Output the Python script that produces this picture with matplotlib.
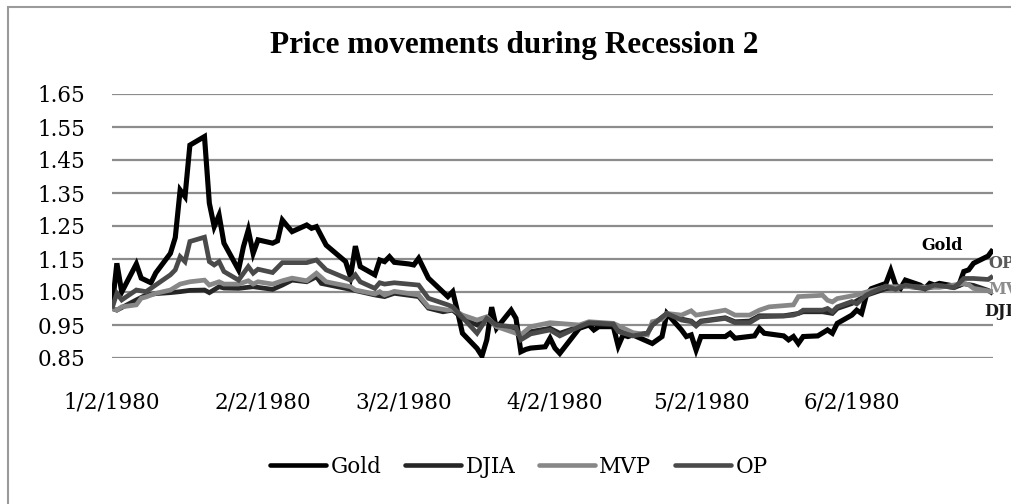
import matplotlib
matplotlib.use("Agg")
import matplotlib.pyplot as plt
from matplotlib.patches import Rectangle
import pandas as pd

# values (normalised prices, 1/2/1980 = 1)
gold_dates = ["01-02", "01-03", "01-04", "01-07", "01-08", "01-10", "01-11", "01-14", "01-15",
              "01-16", "01-17", "01-18", "01-21", "01-22", "01-23", "01-24", "01-25", "01-28",
              "01-29", "01-30", "01-31", "02-01", "02-04", "02-05", "02-06", "02-07", "02-08",
              "02-11", "02-12", "02-13", "02-15", "02-19", "02-20", "02-21", "02-22", "02-25",
              "02-26", "02-27", "02-28", "02-29", "03-03", "03-04", "03-05", "03-07", "03-10",
              "03-11", "03-12", "03-13", "03-14", "03-17", "03-18", "03-19", "03-20", "03-21",
              "03-24", "03-25", "03-26", "03-27", "03-28", "03-31", "04-01", "04-02", "04-03",
              "04-07", "04-09", "04-10", "04-11", "04-14", "04-15", "04-16", "04-17", "04-18",
              "04-22", "04-24", "04-25", "04-28", "04-29", "04-30", "05-01", "05-02", "05-07",
              "05-08", "05-09", "05-13", "05-14", "05-15", "05-19", "05-20", "05-21", "05-22",
              "05-23", "05-26", "05-28", "05-29", "05-30", "06-02", "06-03", "06-04", "06-05",
              "06-06", "06-09", "06-10", "06-11", "06-12", "06-13", "06-16", "06-17", "06-18",
              "06-19", "06-20", "06-23", "06-24", "06-25", "06-26", "06-27", "06-30", "07-01"]
gold = [1.00, 1.137, 1.05, 1.135, 1.092, 1.078, 1.108, 1.167, 1.215,
        1.359, 1.339, 1.495, 1.521, 1.319, 1.248, 1.283, 1.198, 1.117,
        1.187, 1.238, 1.167, 1.208, 1.198, 1.205, 1.268, 1.25, 1.233,
        1.253, 1.243, 1.248, 1.192, 1.142, 1.096, 1.189, 1.127, 1.102,
        1.147, 1.142, 1.157, 1.140, 1.135, 1.132, 1.152, 1.092, 1.05,
        1.036, 1.051, 0.99, 0.925, 0.879, 0.856, 0.905, 1.004, 0.940,
        0.995, 0.970, 0.869, 0.876, 0.88, 0.884, 0.910, 0.88, 0.864,
        0.940, 0.950, 0.935, 0.945, 0.945, 0.886, 0.920, 0.915, 0.920,
        0.894, 0.915, 0.985, 0.935, 0.915, 0.920, 0.874, 0.915, 0.915,
        0.925, 0.91, 0.917, 0.940, 0.925, 0.917, 0.905, 0.915, 0.894,
        0.915, 0.917, 0.935, 0.925, 0.955, 0.980, 0.995, 0.985, 1.041,
        1.06, 1.076, 1.115, 1.071, 1.061, 1.086, 1.071, 1.061, 1.076,
        1.071, 1.076, 1.068, 1.071, 1.112, 1.117, 1.137, 1.159, 1.179]

djia_dates = ["01-02", "01-03", "01-07", "01-09", "01-11", "01-14", "01-16", "01-18", "01-21",
              "01-22", "01-24", "01-25", "01-28", "01-31", "02-04", "02-06", "02-08", "02-11",
              "02-13", "02-14", "02-19", "02-25", "02-27", "02-29", "03-05", "03-07", "03-10",
              "03-12", "03-14", "03-17", "03-18", "03-19", "03-21", "03-24", "03-26", "03-28",
              "04-01", "04-03", "04-07", "04-09", "04-14", "04-15", "04-18", "04-21", "04-22",
              "04-25", "04-28", "04-30", "05-01", "05-02", "05-07", "05-09", "05-12", "05-14",
              "05-19", "05-22", "05-23", "05-27", "05-29", "05-30", "06-02", "06-05", "06-09",
              "06-11", "06-13", "06-17", "06-20", "06-23", "06-25", "06-27", "06-30", "07-01"]
djia = [1.00, 0.995, 1.026, 1.041, 1.045, 1.048, 1.051, 1.055, 1.056,
        1.048, 1.066, 1.062, 1.061, 1.066, 1.058, 1.071, 1.086, 1.081,
        1.096, 1.076, 1.061, 1.041, 1.036, 1.046, 1.036, 1.001, 0.99,
        0.995, 0.970, 0.950, 0.965, 0.972, 0.945, 0.94, 0.915, 0.93,
        0.94, 0.925, 0.945, 0.955, 0.95, 0.935, 0.92, 0.925, 0.95,
        0.985, 0.968, 0.962, 0.95, 0.962, 0.972, 0.96, 0.962, 0.978,
        0.978, 0.985, 0.99, 0.99, 0.985, 1.00, 1.015, 1.04, 1.06,
        1.062, 1.068, 1.06, 1.07, 1.063, 1.075, 1.07, 1.055, 1.045]

mvp_dates = ["01-02", "01-03", "01-04", "01-07", "01-08", "01-09", "01-11", "01-14", "01-16",
             "01-18", "01-21", "01-22", "01-24", "01-25", "01-28", "01-30", "01-31", "02-01",
             "02-04", "02-06", "02-08", "02-11", "02-13", "02-15", "02-20", "02-21", "02-25",
             "02-26", "02-27", "02-29", "03-05", "03-07", "03-11", "03-12", "03-14", "03-17",
             "03-19", "03-21", "03-24", "03-26", "03-28", "04-01", "04-07", "04-09", "04-14",
             "04-18", "04-21", "04-22", "04-24", "04-25", "04-28", "04-30", "05-01", "05-07",
             "05-09", "05-12", "05-14", "05-16", "05-21", "05-22", "05-27", "05-28", "05-29",
             "05-30", "06-03", "06-05", "06-09", "06-13", "06-20", "06-25", "06-26", "06-27",
             "07-01"]
mvp = [1.00, 0.995, 1.005, 1.011, 1.031, 1.035, 1.046, 1.056, 1.074,
       1.081, 1.086, 1.071, 1.081, 1.074, 1.074, 1.084, 1.074, 1.081,
       1.074, 1.084, 1.092, 1.084, 1.107, 1.081, 1.066, 1.056, 1.044,
       1.051, 1.041, 1.052, 1.041, 1.005, 0.995, 0.998, 0.98, 0.965,
       0.975, 0.945, 0.930, 0.920, 0.945, 0.957, 0.95, 0.96, 0.955,
       0.927, 0.920, 0.96, 0.967, 0.985, 0.980, 0.993, 0.98, 0.995,
       0.98, 0.98, 0.995, 1.005, 1.011, 1.036, 1.04, 1.025, 1.02,
       1.03, 1.041, 1.05, 1.066, 1.066, 1.064, 1.076, 1.072, 1.061,
       1.051]

op_dates = ["01-02", "01-03", "01-04", "01-07", "01-09", "01-14", "01-15", "01-16", "01-17",
            "01-18", "01-21", "01-22", "01-23", "01-24", "01-25", "01-28", "01-30", "01-31",
            "02-01", "02-04", "02-06", "02-08", "02-11", "02-13", "02-15", "02-20", "02-21",
            "02-22", "02-25", "02-26", "02-27", "02-29", "03-05", "03-07", "03-11", "03-12",
            "03-17", "03-19", "03-21", "03-24", "03-25", "03-26", "03-28", "04-01", "04-03",
            "04-07", "04-09", "04-14", "04-15", "04-18", "04-21", "04-22", "04-25", "04-28",
            "04-30", "05-01", "05-02", "05-07", "05-09", "05-12", "05-14", "05-19", "05-21",
            "05-22", "05-23", "05-27", "05-28", "05-29", "05-30", "06-02", "06-03", "06-05",
            "06-09", "06-11", "06-13", "06-17", "06-19", "06-23", "06-24", "06-25", "06-27",
            "06-30", "07-01"]
op = [1.00, 1.046, 1.026, 1.056, 1.051, 1.102, 1.117, 1.157, 1.142,
      1.203, 1.216, 1.142, 1.132, 1.142, 1.112, 1.086, 1.127, 1.107,
      1.119, 1.109, 1.139, 1.139, 1.139, 1.147, 1.117, 1.086, 1.102,
      1.081, 1.061, 1.078, 1.074, 1.078, 1.071, 1.031, 1.011, 1.005,
      0.925, 0.970, 0.950, 0.945, 0.943, 0.905, 0.923, 0.935, 0.917,
      0.945, 0.957, 0.953, 0.930, 0.917, 0.925, 0.950, 0.985, 0.965,
      0.960, 0.947, 0.960, 0.970, 0.957, 0.957, 0.975, 0.977, 0.980,
      0.985, 0.995, 0.995, 1.000, 0.990, 1.005, 1.021, 1.014, 1.041,
      1.068, 1.058, 1.071, 1.061, 1.071, 1.064, 1.076, 1.091, 1.091,
      1.088, 1.098]

series_names = ["Gold", "DJIA", "MVP", "OP"]
series_colors = ["#000000", "#262626", "#878787", "#4a4a4a"]
y_ticks = [0.85, 0.95, 1.05, 1.15, 1.25, 1.35, 1.45, 1.55, 1.65]
x_tick_dates = ["1980-01-02", "1980-02-02", "1980-03-02", "1980-04-02", "1980-05-02", "1980-06-02"]
x_tick_labels = ["1/2/1980", "2/2/1980", "3/2/1980", "4/2/1980", "5/2/1980", "6/2/1980"]
title = "Price movements during Recession 2"


def to_dates(md):
    return pd.to_datetime(["1980-" + d for d in md])


fig = plt.figure(figsize=(10.12, 5.04), dpi=100)
ax = fig.add_axes([112 / 1012, 1 - 358 / 504, (993 - 112) / 1012, (358 - 94) / 504])

# outer chart border (cut off at right/bottom in the reference)
fig.patches.append(Rectangle((8 / 1012, -0.1), 1.2, 1.1 - 7 / 504, transform=fig.transFigure,
                             fill=False, edgecolor="#9a9a9a", linewidth=1.5))

for y in y_ticks:
    ax.axhline(y, color="#8c8c8c", linewidth=1.6, zorder=1)

all_data = [(gold_dates, gold), (djia_dates, djia), (mvp_dates, mvp), (op_dates, op)]
widths = [3.7, 3.4, 3.4, 3.4]
for (d, v), name, col, lw in zip(all_data, series_names, series_colors, widths):
    ax.plot(to_dates(d), v, color=col, linewidth=lw, label=name, zorder=3,
            solid_joinstyle="miter", solid_capstyle="butt")

ax.set_xlim(pd.Timestamp("1980-01-02"), pd.Timestamp("1980-07-01"))
ax.set_ylim(0.85, 1.65)
ax.set_yticks(y_ticks)
ax.set_yticklabels([f"{y:.2f}" for y in y_ticks])
ax.set_xticks(pd.to_datetime(x_tick_dates))
ax.set_xticklabels(x_tick_labels)
ax.tick_params(length=0, labelsize=15.5)
ax.tick_params(axis="y", pad=19)
ax.tick_params(axis="x", pad=24)
for lab in ax.get_xticklabels() + ax.get_yticklabels():
    lab.set_fontfamily("DejaVu Serif")
for s in ax.spines.values():
    s.set_visible(False)
ax.patch.set_alpha(0)

fig.text(0.508, 1 - 45 / 504, title, ha="center", va="center",
         fontsize=22.5, fontweight="bold", family="Liberation Serif")

# end-of-line labels (cut at the right edge, as in the reference)
end_labels = [("Gold", 942, 245, "#000000"), ("OP", 988, 263, "#595959"),
              ("MVP", 988, 289, "#8c8c8c"), ("DJIA", 984, 312, "#1a1a1a")]
for txt, px, py, col in end_labels:
    ha = "center" if txt == "Gold" else "left"
    fig.text(px / 1012, 1 - py / 504, txt, ha=ha, va="center", fontsize=11.5,
             fontweight="bold", color=col, family="DejaVu Serif")

leg = fig.legend(loc="center", bbox_to_anchor=(519 / 1012, 1 - 467 / 504), ncol=4,
                 frameon=False, handlelength=2.6, handletextpad=0.2, columnspacing=1.1,
                 prop={"family": "DejaVu Serif", "size": 15.5})
for h in leg.get_lines():
    h.set_linewidth(3.3)
    h.set_solid_capstyle("round")

fig.savefig("out.png", dpi=100)
